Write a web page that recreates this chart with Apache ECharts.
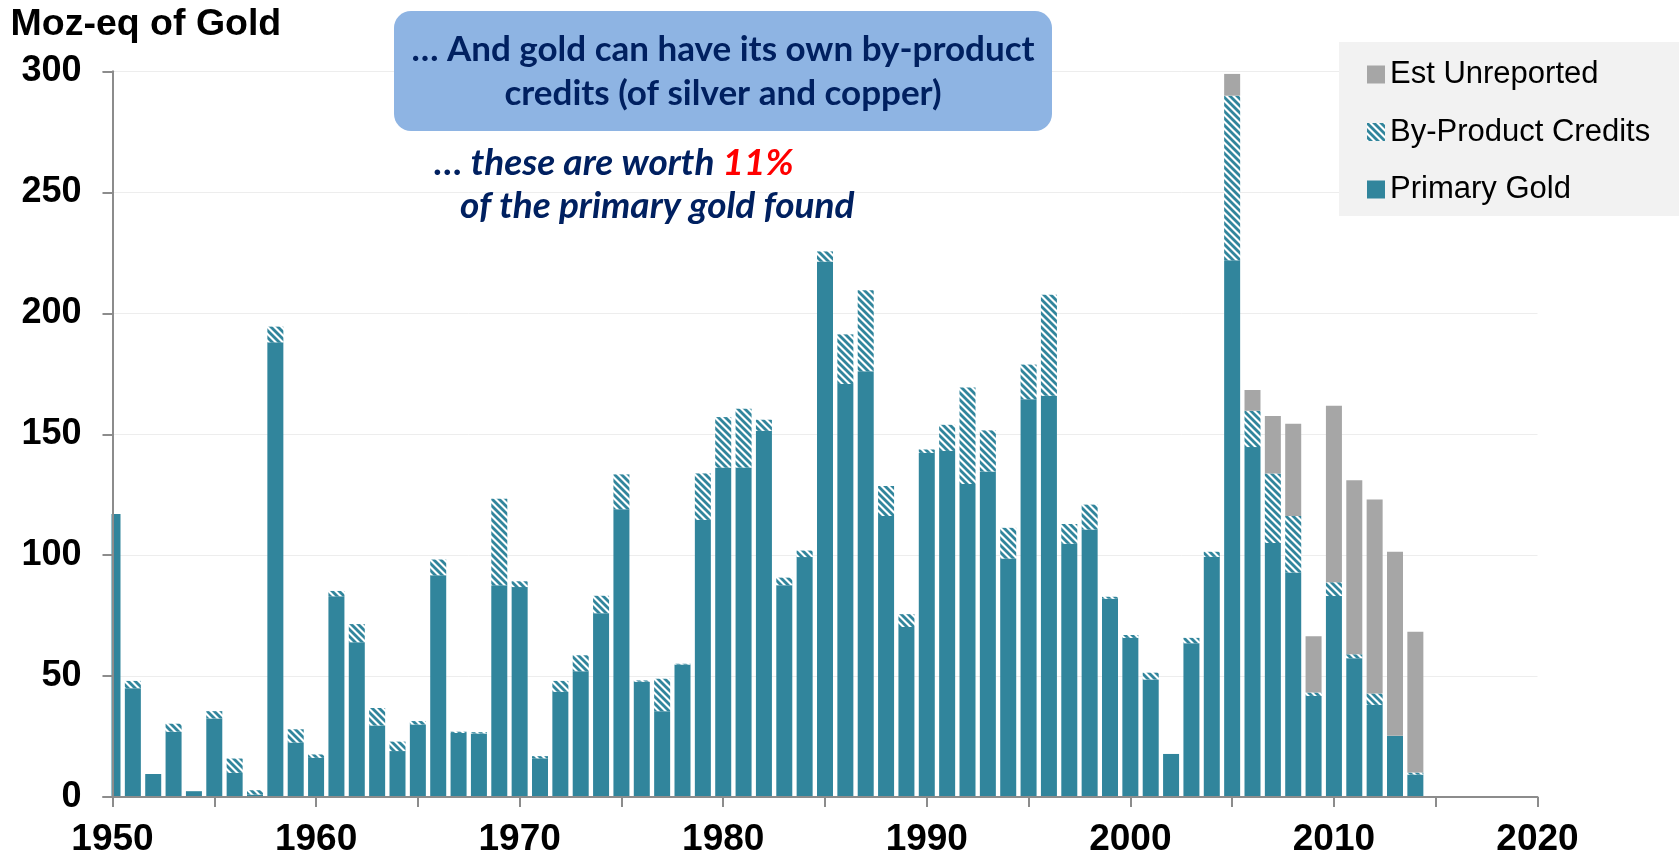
<!DOCTYPE html>
<html>
<head>
<meta charset="utf-8">
<script src="https://cdn.jsdelivr.net/npm/echarts@6/dist/echarts.min.js"></script>
<style>
  html, body { margin: 0; padding: 0; background: #ffffff; }
  #chart { width: 1679px; height: 859px; }
</style>
</head>
<body>
<div id="chart"></div>
<script>
// Discovery years on the horizontal axis (1950 to 2020)
const years = [
  1950, 1951, 1952, 1953, 1954, 1955, 1956, 1957, 1958, 1959,
  1960, 1961, 1962, 1963, 1964, 1965, 1966, 1967, 1968, 1969,
  1970, 1971, 1972, 1973, 1974, 1975, 1976, 1977, 1978, 1979,
  1980, 1981, 1982, 1983, 1984, 1985, 1986, 1987, 1988, 1989,
  1990, 1991, 1992, 1993, 1994, 1995, 1996, 1997, 1998, 1999,
  2000, 2001, 2002, 2003, 2004, 2005, 2006, 2007, 2008, 2009,
  2010, 2011, 2012, 2013, 2014, 2015, 2016, 2017, 2018, 2019,
  2020
];

// Primary gold discovered per year, 1950-2014 (Moz)
const primaryGold = [
  117, 45, 9.5, 27, 2.4, 32.5, 10, 1, 188, 22.5,
  16.2, 83, 64, 29.6, 19, 30, 91.7, 26.5, 26.3, 87.6,
  86.8, 16, 43.5, 52, 76, 119, 47.7, 35.5, 54.8, 114.6,
  136.2, 136.2, 151.4, 87.6, 99.2, 221.4, 170.8, 176, 116.2, 70.3,
  142.3, 143.1, 129.4, 134.6, 98.6, 164.5, 165.9, 104.7, 110.6, 82,
  65.8, 48.6, 17.8, 63.6, 99.3, 222, 144.7, 105, 92.8, 41.8,
  83.1, 57.4, 38.1, 25.3, 9.3
];

// Silver and copper by-product credits, gold-equivalent (Moz-eq)
const byProductCredits = [
  0, 3, 0, 3.3, 0, 3, 5.9, 1.8, 6.5, 5.5,
  1.4, 2.2, 7.5, 7.2, 3.9, 1.4, 6.5, 0.5, 0.5, 35.7,
  2.4, 0.9, 4.5, 6.6, 7.2, 14.4, 0.5, 13.4, 0.3, 19.2,
  20.9, 24.3, 4.6, 3.1, 2.7, 4.2, 20.5, 33.5, 12.4, 5.3,
  1.4, 10.8, 39.9, 17, 12.7, 14.3, 41.8, 8.2, 10.3, 0.8,
  1.2, 2.8, 0, 2.2, 2.1, 68, 15, 28.8, 23.4, 1.4,
  5.7, 1.6, 4.7, 0, 0.8
];

// Estimated unreported discoveries (Moz-eq)
const estUnreported = [
  0, 0, 0, 0, 0, 0, 0, 0, 0, 0,
  0, 0, 0, 0, 0, 0, 0, 0, 0, 0,
  0, 0, 0, 0, 0, 0, 0, 0, 0, 0,
  0, 0, 0, 0, 0, 0, 0, 0, 0, 0,
  0, 0, 0, 0, 0, 0, 0, 0, 0, 0,
  0, 0, 0, 0, 0, 9, 8.6, 23.7, 38.1, 23.3,
  73, 72, 80.2, 76.1, 58.2
];

const yTicks = [0, 50, 100, 150, 200, 250, 300];

const TEAL = '#31859C';
const GREY = '#A6A6A6';
const NAVY = '#002060';
const AXIS_GREY = '#8C8C8C';

// Diagonal teal/white stripes for the by-product credits
function makeHatch() {
  const s = 7;
  const c = document.createElement('canvas');
  c.width = s; c.height = s;
  const g = c.getContext('2d');
  g.fillStyle = '#ffffff';
  g.fillRect(0, 0, s, s);
  g.strokeStyle = TEAL;
  g.lineWidth = 2.8;
  g.lineCap = 'square';
  for (let k = -1; k <= 1; k++) {
    g.beginPath();
    g.moveTo(k * s, 0);
    g.lineTo(k * s + s, s);
    g.stroke();
  }
  return c;
}
const hatch = { image: makeHatch(), repeat: 'repeat' };

const chart = echarts.init(document.getElementById('chart'), null, { renderer: 'canvas' });

const FONT = 'Liberation Sans, Arial, sans-serif';
const CAL = 'Lato, Carlito, Calibri, sans-serif';

const GRID = { left: 112.5, right: 141.5, top: 71.5, bottom: 62 };
const barBase = { type: 'bar', stack: 'total', barWidth: 16, clip: true, yAxisIndex: 0 };

chart.setOption({
  animation: false,
  backgroundColor: '#ffffff',
  grid: Object.assign({ containLabel: false, outerBoundsMode: 'none' }, GRID),
  legend: {
    orient: 'vertical',
    left: 1339,
    top: 42,
    width: 340,
    padding: [17, 40, 11, 28],
    backgroundColor: '#F2F2F2',
    itemWidth: 18,
    itemHeight: 18,
    itemGap: 26.5,
    icon: 'rect',
    textStyle: { fontFamily: FONT, fontSize: 31, color: '#000000' },
    data: ['Est Unreported', 'By-Product Credits', 'Primary Gold']
  },
  xAxis: {
    type: 'category',
    data: years.map(String),
    boundaryGap: false,
    z: 10,
    splitLine: { show: false },
    axisLine: { show: true, lineStyle: { color: AXIS_GREY, width: 2 } },
    axisTick: { show: true, interval: 4, length: 10, lineStyle: { color: AXIS_GREY, width: 2 } },
    axisLabel: {
      interval: 9,
      margin: 24,
      fontFamily: FONT,
      fontSize: 37,
      fontWeight: 'bold',
      color: '#000000'
    }
  },
  yAxis: [
    {
      type: 'value',
      min: yTicks[0],
      max: yTicks[yTicks.length - 1],
      interval: 50,
      name: 'Moz-eq of Gold',
      nameLocation: 'end',
      nameGap: 0,
      nameTextStyle: {
        fontFamily: FONT, fontSize: 37.5, fontWeight: 'bold', color: '#000000',
        align: 'left', verticalAlign: 'bottom', padding: [0, 0, 28, -102]
      },
      splitLine: { show: true, lineStyle: { color: '#EDEDED', width: 1 } },
      axisLine: { show: true, lineStyle: { color: AXIS_GREY, width: 2 } },
      axisTick: { show: true, length: 10, lineStyle: { color: AXIS_GREY, width: 2 } },
      axisLabel: {
        margin: 31,
        fontFamily: FONT,
        fontSize: 36,
        fontWeight: 'bold',
        color: '#000000'
      }
    },
    {
      // axis line and ticks redrawn above the plot so the first bar stops at the axis
      type: 'value',
      position: 'left',
      min: yTicks[0],
      max: yTicks[yTicks.length - 1],
      interval: 50,
      z: 10,
      splitLine: { show: false },
      axisLabel: { show: false },
      axisLine: { show: true, lineStyle: { color: AXIS_GREY, width: 2 } },
      axisTick: { show: true, length: 10, lineStyle: { color: AXIS_GREY, width: 2 } }
    }
  ],
  series: [
    Object.assign({ name: 'Primary Gold', itemStyle: { color: TEAL }, data: primaryGold }, barBase),
    Object.assign({ name: 'By-Product Credits', itemStyle: { color: hatch }, data: byProductCredits }, barBase),
    Object.assign({ name: 'Est Unreported', itemStyle: { color: GREY }, data: estUnreported }, barBase)
  ],
  graphic: [
    {
      // white margin left of the plot area
      type: 'rect',
      shape: { x: 90, y: GRID.top, width: GRID.left - 90 - 1, height: 859 - GRID.bottom - GRID.top - 1 },
      style: { fill: '#ffffff' },
      z: 5
    },
    {
      type: 'rect',
      shape: { x: 394, y: 11, width: 658, height: 120, r: 17 },
      style: { fill: '#8EB4E3' },
      z: 11
    },
    {
      type: 'text',
      x: 723, y: 50,
      z: 12,
      style: {
        text: '… And gold can have its own by-product',
        font: 'bold 35px ' + CAL,
        fill: NAVY,
        align: 'center',
        verticalAlign: 'middle'
      }
    },
    {
      type: 'text',
      x: 723, y: 94,
      z: 12,
      style: {
        text: 'credits (of silver and copper)',
        font: 'bold 35px ' + CAL,
        fill: NAVY,
        align: 'center',
        verticalAlign: 'middle'
      }
    },
    {
      type: 'text',
      x: 434, y: 163,
      z: 12,
      style: {
        text: '{a|… these are worth }{b|11%}',
        align: 'left',
        verticalAlign: 'middle',
        rich: {
          a: { fontFamily: CAL, fontSize: 37, fontWeight: 'bold', fontStyle: 'italic', fill: NAVY },
          b: { fontFamily: CAL, fontSize: 37, fontWeight: 'bold', fontStyle: 'italic', fill: '#FF0000' }
        }
      }
    },
    {
      type: 'text',
      x: 460, y: 206,
      z: 12,
      style: {
        text: 'of the primary gold found',
        font: 'italic bold 37px ' + CAL,
        fill: NAVY,
        align: 'left',
        verticalAlign: 'middle'
      }
    }
  ]
});
</script>
</body>
</html>
